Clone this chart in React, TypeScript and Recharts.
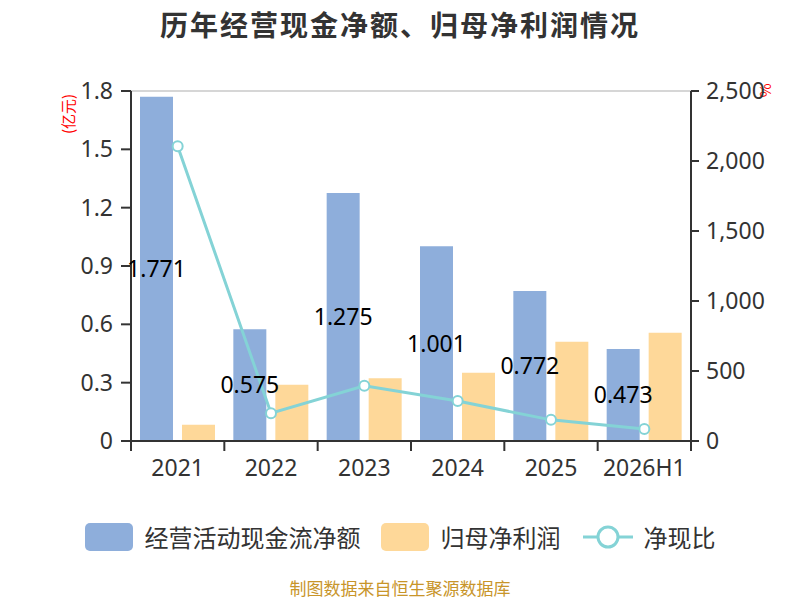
import {
  Bar,
  CartesianGrid,
  ComposedChart,
  LabelList,
  Line,
  XAxis,
  YAxis,
} from "recharts";

const YEARS = ["2021", "2022", "2023", "2024", "2025", "2026H1"];
const CASH_FLOW = [1.771, 0.575, 1.275, 1.001, 0.772, 0.473];
const NET_PROFIT = [0.084, 0.289, 0.323, 0.351, 0.511, 0.557];
const CASH_RATIO = [2106, 199, 395, 285, 151, 85];

const LEFT_TICKS = [0, 0.3, 0.6, 0.9, 1.2, 1.5, 1.8];
const RIGHT_TICKS = [0, 500, 1000, 1500, 2000, 2500];

const BLUE = "#8eaedb";
const ORANGE = "#fed899";
const TEAL = "#84d3d6";
const FONT = '"Noto Sans CJK SC", "Noto Sans", sans-serif';
const NUM_FONT = '"Noto Sans", "Noto Sans CJK SC", sans-serif';

const data = YEARS.map((year, i) => ({
  year,
  cash: CASH_FLOW[i],
  profit: NET_PROFIT[i],
  ratio: CASH_RATIO[i],
}));

const XTick = (props: any) => {
  const { x, y, payload, index, visibleTicksCount, width } = props;
  const half =
    payload && payload.offset
      ? payload.offset
      : width / visibleTicksCount / 2;

  return (
    <g>
      <line
        x1={x - half}
        x2={x - half}
        y1={y}
        y2={y + 10}
        stroke="#333"
        strokeWidth={2}
      />
      {index === visibleTicksCount - 1 && (
        <line
          x1={x + half}
          x2={x + half}
          y1={y}
          y2={y + 10}
          stroke="#333"
          strokeWidth={2}
        />
      )}
      <text
        x={x}
        y={y + 26}
        textAnchor="middle"
        dominantBaseline="central"
        fill="#333"
        fontSize={23}
        fontFamily={NUM_FONT}
      >
        {payload.value}
      </text>
    </g>
  );
};

const LegendSwatch = ({ color }: { color: string }) => (
  <span
    style={{
      display: "inline-block",
      width: 48,
      height: 28,
      borderRadius: 5,
      background: color,
      marginRight: 12,
    }}
  />
);

export default function App() {
  return (
    <div
      style={{
        position: "absolute",
        left: 0,
        top: 0,
        width: 800,
        height: 600,
        background: "#fff",
        fontFamily: FONT,
        overflow: "hidden",
      }}
    >
      <div
        style={{
          position: "absolute",
          top: 4,
          left: 0,
          width: 800,
          textAlign: "center",
          fontSize: 28,
          fontWeight: "bold",
          letterSpacing: 2,
          color: "#333",
        }}
      >
        历年经营现金净额、归母净利润情况
      </div>

      <div
        style={{
          position: "absolute",
          left: 38,
          top: 104,
          width: 60,
          lineHeight: "20px",
          textAlign: "center",
          whiteSpace: "nowrap",
          fontSize: 15,
          color: "#ff0000",
          transform: "rotate(-90deg)",
        }}
      >
        (亿元)
      </div>

      <div
        style={{
          position: "absolute",
          left: 760,
          top: 80,
          fontSize: 15,
          color: "#ff0000",
          transform: "rotate(90deg)",
        }}
      >
        %
      </div>

      <ComposedChart
        width={800}
        height={600}
        data={data}
        margin={{ top: 91, right: 0, left: 0, bottom: 119 }}
        barSize={33}
        barGap={9}
        style={{ fontFamily: FONT }}
      >
        <CartesianGrid
          vertical={false}
          stroke="#c8c8c8"
          strokeWidth={1.5}
        />

        <XAxis
          dataKey="year"
          height={40}
          axisLine={{ stroke: "#333", strokeWidth: 2 }}
          tickLine={false}
          tickSize={0}
          tickMargin={0}
          tick={<XTick />}
          interval={0}
        />

        <YAxis
          yAxisId="left"
          width={131}
          domain={[0, 1.8]}
          ticks={LEFT_TICKS}
          tickFormatter={(v: number) => (v === 0 ? "0" : v.toFixed(1))}
          axisLine={{ stroke: "#333", strokeWidth: 2 }}
          tickLine={{ stroke: "#333", strokeWidth: 2 }}
          tickSize={10}
          tickMargin={8}
          tick={{ fill: "#333", fontSize: 23, fontFamily: NUM_FONT }}
        />

        <YAxis
          yAxisId="right"
          orientation="right"
          width={109}
          domain={[0, 2500]}
          ticks={RIGHT_TICKS}
          tickFormatter={(v: number) => v.toLocaleString("en-US")}
          axisLine={{ stroke: "#333", strokeWidth: 2 }}
          tickLine={{ stroke: "#333", strokeWidth: 2 }}
          tickSize={8}
          tickMargin={7}
          tick={{ fill: "#333", fontSize: 23, fontFamily: NUM_FONT }}
        />

        <Bar
          yAxisId="left"
          dataKey="cash"
          name="经营活动现金流净额"
          fill={BLUE}
          isAnimationActive={false}
        >
          <LabelList
            dataKey="cash"
            position="center"
            fill="#000"
            fontSize={23}
            fontFamily={NUM_FONT}
          />
        </Bar>

        <Bar
          yAxisId="left"
          dataKey="profit"
          name="归母净利润"
          fill={ORANGE}
          isAnimationActive={false}
        />

        <Line
          yAxisId="right"
          dataKey="ratio"
          name="净现比"
          stroke={TEAL}
          strokeWidth={3}
          dot={{ r: 5, fill: "#fff", stroke: TEAL, strokeWidth: 2 }}
          isAnimationActive={false}
        />
      </ComposedChart>

      <div
        style={{
          position: "absolute",
          top: 519,
          left: 0,
          width: 800,
          display: "flex",
          justifyContent: "center",
          alignItems: "center",
          fontSize: 24,
          color: "#333",
        }}
      >
        <LegendSwatch color={BLUE} />
        <span style={{ marginRight: 20 }}>经营活动现金流净额</span>
        <LegendSwatch color={ORANGE} />
        <span style={{ marginRight: 22 }}>归母净利润</span>
        <svg width={50} height={28} style={{ marginRight: 11 }}>
          <line x1={0} x2={50} y1={14} y2={14} stroke={TEAL} strokeWidth={3} />
          <circle cx={25} cy={14} r={10} fill="#fff" stroke={TEAL} strokeWidth={3} />
        </svg>
        <span>净现比</span>
      </div>

      <div
        style={{
          position: "absolute",
          top: 577,
          left: 0,
          width: 800,
          lineHeight: "22px",
          textAlign: "center",
          fontSize: 17,
          color: "#c8952a",
        }}
      >
        制图数据来自恒生聚源数据库
      </div>
    </div>
  );
}
